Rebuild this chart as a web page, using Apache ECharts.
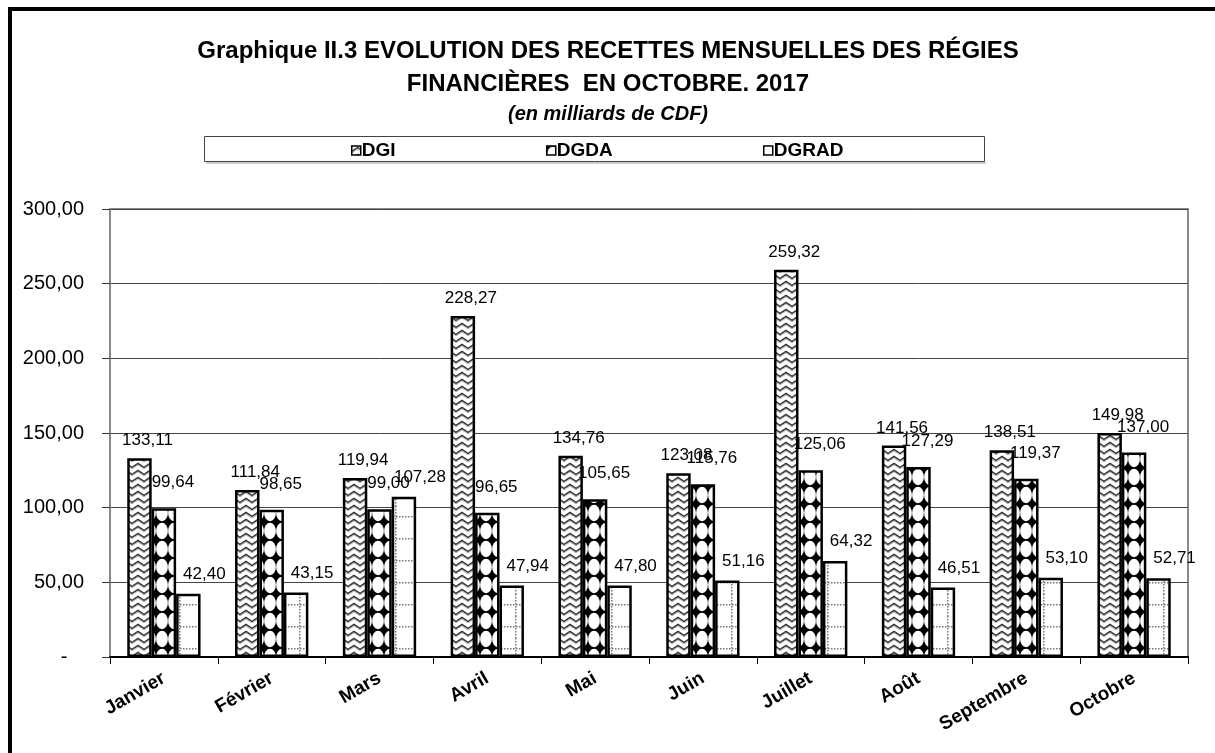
<!DOCTYPE html>
<html>
<head>
<meta charset="utf-8">
<title>Recettes mensuelles des régies financières</title>
<script src="https://cdn.jsdelivr.net/npm/echarts@6/dist/echarts.min.js"></script>
<style>
  html, body { margin: 0; padding: 0; background: #fff; }
  #chart { width: 1215px; height: 753px; }
</style>
</head>
<body>
<div id="chart"></div>
<script>
"use strict";

// mois
var months = ["Janvier", "Février", "Mars", "Avril", "Mai", "Juin", "Juillet", "Août", "Septembre", "Octobre"];
// recettes en milliards de CDF
var dgi = [133.11, 111.84, 119.94, 228.27, 134.76, 123.08, 259.32, 141.56, 138.51, 149.98];
var dgda = [99.64, 98.65, 99.00, 96.65, 105.65, 115.76, 125.06, 127.29, 119.37, 137.00];
var dgrad = [42.40, 43.15, 107.28, 47.94, 47.80, 51.16, 64.32, 46.51, 53.10, 52.71];
// axe des valeurs
var yTicks = [0, 50, 100, 150, 200, 250, 300];

var fr = function(v) {
  return Number(v).toFixed(2).replace(".", ",");
};

/* ===== motifs de remplissage ===== */
function makeTile(w, h, draw) {
  var c = document.createElement("canvas");
  c.width = w;
  c.height = h;
  var ctx = c.getContext("2d");
  ctx.fillStyle = "#fff";
  ctx.fillRect(0, 0, w, h);
  draw(ctx);
  return { image: c, repeat: "repeat" };
}

// chevrons (DGI)
var patDGI = makeTile(12, 7, function(ctx) {
  ctx.strokeStyle = "#3a3a3a";
  ctx.lineWidth = 1.6;
  ctx.beginPath();
  ctx.moveTo(-1, 6);
  ctx.lineTo(6, 1.5);
  ctx.lineTo(13, 6);
  ctx.stroke();
  ctx.strokeStyle = "#b0b0b0";
  ctx.lineWidth = 1;
  ctx.beginPath();
  ctx.moveTo(-1, 7.5);
  ctx.lineTo(6, 3);
  ctx.lineTo(13, 7.5);
  ctx.stroke();
});

// cercles blancs sur fond noir (DGDA)
var patDGDA = makeTile(12, 18, function(ctx) {
  ctx.fillStyle = "#000";
  ctx.fillRect(0, 0, 12, 18);
  ctx.fillStyle = "#fff";
  ctx.beginPath();
  ctx.ellipse(6, 9, 5.9, 8.2, 0, 0, Math.PI * 2);
  ctx.fill();
});

// pointillés (DGRAD)
var patDGRAD = makeTile(24, 22, function(ctx) {
  ctx.fillStyle = "#777";
  for (var y = 0; y < 22; y += 3) ctx.fillRect(11, y, 1.5, 1.5);
  for (var x = 0; x < 24; x += 3) ctx.fillRect(x, 10, 1.5, 1.5);
});

var chart = echarts.init(document.getElementById("chart"), null, { renderer: "canvas" });

var labelBase = {
  show: true,
  position: "top",
  color: "#000",
  fontFamily: "Liberation Sans, Arial, sans-serif",
  fontSize: 17,
  formatter: function(p) { return fr(p.value); }
};

function barSeries(name, data, pattern, offset) {
  return {
    name: name,
    type: "bar",
    data: data,
    barGap: "0%",
    barCategoryGap: "32%",
    itemStyle: { color: pattern, borderColor: "#000", borderWidth: 2.5 },
    label: Object.assign({}, labelBase, { offset: offset }),
    emphasis: { disabled: true }
  };
}

function legendAt(name, left) {
  return {
    data: [name],
    left: left,
    top: 136,
    itemWidth: 9,
    itemHeight: 9,
    itemGap: 5,
    icon: "rect",
    itemStyle: { borderWidth: 1.5, borderColor: "#000" },
    textStyle: {
      fontFamily: "Liberation Sans, Arial, sans-serif",
      fontWeight: "bold",
      fontSize: 19,
      color: "#000",
      padding: [0, 0, 0, -4]
    },
    selectedMode: false
  };
}

var option = {
  backgroundColor: "#fff",
  animation: false,
  title: [
    {
      text: "Graphique II.3 EVOLUTION DES RECETTES MENSUELLES DES RÉGIES\nFINANCIÈRES  EN OCTOBRE. 2017",
      left: 603,
      top: 30,
      textAlign: "center",
      textStyle: {
        fontFamily: "Liberation Sans Narrow, Arial Narrow, Liberation Sans, sans-serif",
        fontWeight: "bold",
        fontSize: 24,
        lineHeight: 33,
        color: "#000"
      }
    },
    {
      text: "(en milliards de CDF)",
      left: 603,
      top: 99,
      textAlign: "center",
      textStyle: {
        fontFamily: "Liberation Sans Narrow, Arial Narrow, Liberation Sans, sans-serif",
        fontWeight: "bold",
        fontStyle: "italic",
        fontSize: 20,
        color: "#000"
      }
    }
  ],
  legend: [legendAt("DGI", 346), legendAt("DGDA", 541), legendAt("DGRAD", 758)],
  grid: {
    left: 110,
    right: 27,
    top: 209,
    bottom: 96,
    show: true,
    borderColor: "#8a8a8a",
    borderWidth: 2,
    containLabel: false
  },
  xAxis: {
    type: "category",
    data: months,
    axisLine: { lineStyle: { color: "#000", width: 2 } },
    axisTick: { show: true, length: 7, lineStyle: { color: "#000", width: 1 } },
    axisLabel: {
      rotate: 30,
      margin: 20,
      color: "#000",
      fontFamily: "Liberation Sans, Arial, sans-serif",
      fontWeight: "bold",
      fontSize: 19
    }
  },
  yAxis: [
    {
      type: "value",
      min: yTicks[0],
      max: yTicks[yTicks.length - 1],
      interval: yTicks[1] - yTicks[0],
      axisLine: { show: true, lineStyle: { color: "#8a8a8a", width: 2 } },
      axisTick: { show: true, length: 8, lineStyle: { color: "#333", width: 1 } },
      splitLine: { lineStyle: { color: "#444", width: 1 } },
      axisLabel: {
        margin: 26,
        color: "#000",
        fontFamily: "Liberation Sans, Arial, sans-serif",
        fontSize: 20,
        formatter: function(v) { return v === 0 ? "-   " : fr(v); }
      }
    }
  ],
  graphic: [
    // cadre de la légende
    {
      type: "rect",
      shape: { x: 204.5, y: 136.5, width: 780, height: 25 },
      style: { fill: "none", stroke: "#444", lineWidth: 1 },
      silent: true,
      z: -1
    },
    {
      type: "line",
      shape: { x1: 206, y1: 163, x2: 986, y2: 163 },
      style: { stroke: "#bbb", lineWidth: 1.5 },
      silent: true
    },
    // bordure extérieure
    {
      type: "line",
      shape: { x1: 8, y1: 9, x2: 1215, y2: 9 },
      style: { stroke: "#000", lineWidth: 4 },
      silent: true
    },
    {
      type: "line",
      shape: { x1: 10, y1: 7, x2: 10, y2: 753 },
      style: { stroke: "#000", lineWidth: 4 },
      silent: true
    }
  ],
  series: [
    barSeries("DGI", dgi, patDGI, [8, -4]),
    barSeries("DGDA", dgda, patDGDA, [9, -12]),
    barSeries("DGRAD", dgrad, patDGRAD, [16, -6])
  ]
};

chart.setOption(option);
</script>
</body>
</html>
